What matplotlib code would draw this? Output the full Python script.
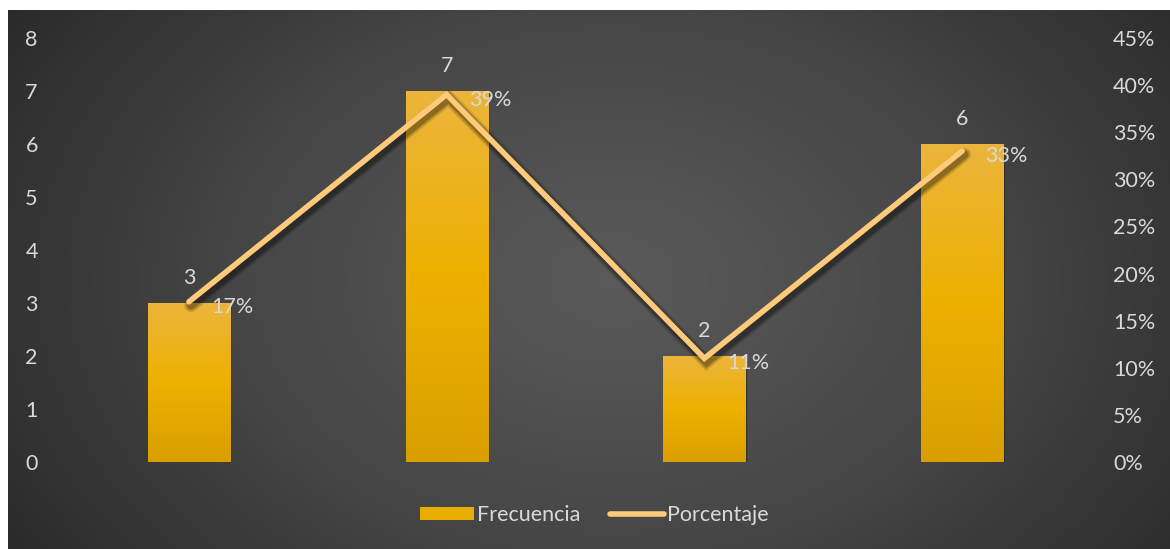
import numpy as np
import matplotlib.pyplot as plt
from matplotlib import patheffects
from matplotlib.colors import LinearSegmentedColormap
from matplotlib.lines import Line2D
from matplotlib.patches import Rectangle
from matplotlib.ticker import FuncFormatter, MultipleLocator

plt.rcParams['font.family'] = ['Lato', 'DejaVu Sans']

categories = ['A', 'B', 'C', 'D']
frecuencia = [3, 7, 2, 6]
porcentaje = [0.17, 0.39, 0.11, 0.33]
pct_labels = ['17%', '39%', '11%', '33%']

TEXT = '#d9d9d9'
LINE = '#ffca7a'
FS = 15.5

fig = plt.figure(figsize=(11.7, 5.49), dpi=100)
fig.patch.set_facecolor('white')

# dark radial background of the chart area
bg = fig.add_axes([8 / 1170, 0, 1 - 8 / 1170, 1 - 10 / 549])
bg.set_axis_off()
h, w = 539, 1162
yy, xx = np.mgrid[0:h, 0:w]
r = np.sqrt(((xx - w * 0.52) / (w * 0.62)) ** 2 + ((yy - h * 0.5) / (h * 0.95)) ** 2)
r = np.clip(r, 0, 1)
bg_cmap = LinearSegmentedColormap.from_list('bg', ['#5a5a5a', '#474747', '#2a2a2a'])
bg.imshow(r, cmap=bg_cmap, aspect='auto', extent=[0, 1, 0, 1], vmin=0, vmax=1)
bg.set_xlim(0, 1)
bg.set_ylim(0, 1)

ax = fig.add_axes([60 / 1170, 87 / 549, 1031 / 1170, 424 / 549])
ax.patch.set_alpha(0)
ax2 = ax.twinx()

x = np.arange(len(categories))
bar_w = 82 / 257.5

bars = ax.bar(x, frecuencia, width=bar_w, color='none', zorder=2)

# gradient fill and soft shadow for each bar
bar_cmap = LinearSegmentedColormap.from_list('bar', ['#d99f00', '#eeb000', '#ebb53c'])
grad = np.linspace(0, 1, 256).reshape(-1, 1)
for b in bars:
    x0, y0 = b.get_x(), b.get_y()
    bw, bh = b.get_width(), b.get_height()
    for k, a in ((3, 0.12), (2, 0.18), (1, 0.25)):
        shadow = Rectangle((x0 + 0.003 * k, y0 - 0.02 * k), bw, bh,
                           facecolor='black', alpha=a, edgecolor='none', zorder=1)
        ax.add_patch(shadow)
    im = ax.imshow(grad, cmap=bar_cmap, origin='lower', aspect='auto',
                   extent=[x0, x0 + bw, y0, y0 + bh], zorder=2)
    im.set_clip_path(b)

for xi, v in zip(x, frecuencia):
    ax.annotate(str(v), (xi, v), xytext=(0, 18), textcoords='offset points',
                ha='center', va='center', color=TEXT, fontsize=FS)

ax.set_xlim(-0.5, len(categories) - 0.5)
ax.set_ylim(0, 8)
ax.yaxis.set_major_locator(MultipleLocator(1))
ax.set_xticks([])
ax.tick_params(axis='y', length=0, pad=16, labelsize=FS, labelcolor=TEXT)

# soft blurred shadow under the percentage line
line_fx = [patheffects.SimpleLineShadow(offset=(1.5, -2.5), alpha=a,
                                        shadow_color='black', linewidth=lw)
           for lw, a in ((10, 0.10), (8, 0.15), (6, 0.22))]
line_fx.append(patheffects.Normal())
ax2.plot(x, porcentaje, color=LINE, lw=4, solid_capstyle='round',
         solid_joinstyle='miter', zorder=3, path_effects=line_fx)
for xi, p, lab in zip(x, porcentaje, pct_labels):
    ax2.annotate(lab, (xi, p), xytext=(16.5, -3.6), textcoords='offset points',
                 ha='left', va='center', color=TEXT, fontsize=FS)

ax2.set_ylim(0, 0.45)
ax2.yaxis.set_major_locator(MultipleLocator(0.05))
ax2.yaxis.set_major_formatter(FuncFormatter(lambda v, _: f'{v * 100:.0f}%'))
ax2.tick_params(axis='y', length=0, pad=16, labelsize=FS, labelcolor=TEXT)

for a in (ax, ax2):
    for s in a.spines.values():
        s.set_visible(False)

handles = [Rectangle((0, 0), 1, 1, facecolor='#e9ac00', edgecolor='none'),
           Line2D([0], [0], color=LINE, lw=4, solid_capstyle='round')]
leg = fig.legend(handles, ['Frecuencia', 'Porcentaje'], loc='center',
                 bbox_to_anchor=(0.508, 34 / 549), ncol=2, frameon=False,
                 fontsize=FS, handlelength=2.5, handleheight=0.6,
                 handletextpad=0.15, columnspacing=1.4)
for t in leg.get_texts():
    t.set_color(TEXT)

fig.savefig('out.png', dpi=100)
